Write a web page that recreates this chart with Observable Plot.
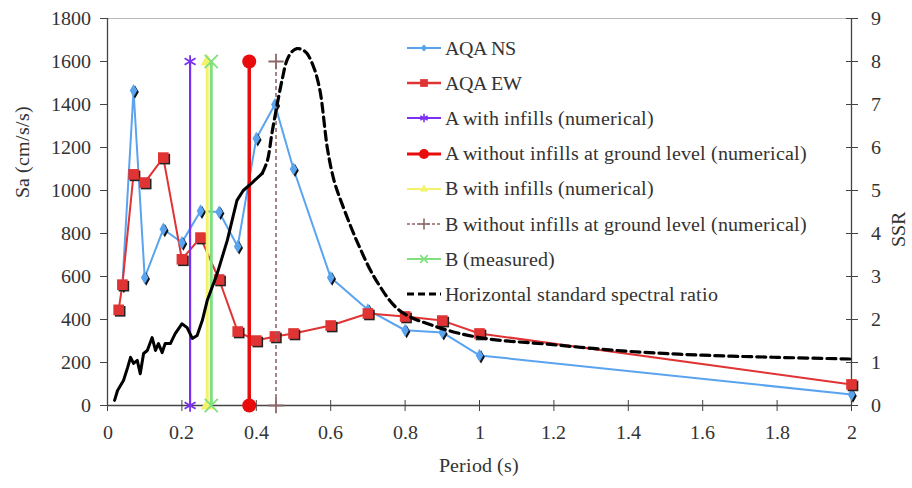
<!DOCTYPE html>
<html>
<head>
<meta charset="utf-8">
<script src="https://cdn.jsdelivr.net/npm/d3@7"></script>
<script src="https://cdn.jsdelivr.net/npm/@observablehq/plot@0.6"></script>
<style>
  @font-face { font-family: "ChartSerif"; src: local("Liberation Serif"), local("LiberationSerif"), local("LiberationSerif-Regular"), local("Times New Roman"); }
  body { margin: 0; }
  html body *, html body svg text { font-family: "ChartSerif", 'Liberation Serif', serif !important; }
  .wrap { position: relative; width: 912px; height: 488px; }
  .xtitle { position: absolute; left: 0; width: 958px; top: 454px; text-align: center; font-size: 20px; color: #333; }
  .legend { position: absolute; left: 406px; top: 30px; }
  .row { position: absolute; left: 0; height: 24px; display: flex; align-items: center; white-space: nowrap; font-size: 20px; color: #333; }
  .row svg { margin-right: 3px; }
</style>
</head>
<body>
<div class="wrap" id="wrap">
  <div class="xtitle">Period (s)</div>
  <div class="legend" id="legend"></div>
</div>
<script>
// ---- data ----
const nsPeriod = [0.04, 0.07, 0.1, 0.15, 0.2, 0.25, 0.3, 0.35, 0.4, 0.45, 0.5, 0.6, 0.7, 0.8, 0.9, 1.0, 2.0];
const nsSa     = [560, 1465, 595, 820, 758, 905, 900, 740, 1242, 1400, 1100, 595, 445, 350, 340, 233, 51];

const ewPeriod = [0.03, 0.04, 0.07, 0.1, 0.15, 0.2, 0.25, 0.3, 0.35, 0.4, 0.45, 0.5, 0.6, 0.7, 0.8, 0.9, 1.0, 2.0];
const ewSa     = [445, 562, 1075, 1037, 1153, 680, 781, 586, 344, 302, 321, 335, 372, 428, 414, 395, 335, 98];

// vertical period markers (Sa from 0 to 1600)
const vlineNames   = ["A with infills (numerical)", "B with infills (numerical)", "B (measured)", "A without infills at ground level (numerical)", "B without infills at ground level (numerical)"];
const vlinePeriods = [0.222, 0.268, 0.279, 0.381, 0.453];
const vlineLow = 0, vlineHigh = 1600;

// Horizontal standard spectral ratio (right axis)
const ssrSolidPeriod = [0.019, 0.027, 0.043, 0.054, 0.062, 0.07, 0.08, 0.088, 0.097, 0.107, 0.12, 0.129, 0.137, 0.147, 0.155, 0.169, 0.182, 0.2, 0.214, 0.228, 0.241, 0.255, 0.268, 0.295, 0.322, 0.348, 0.365, 0.39, 0.416];
const ssrSolidValue  = [0.12, 0.35, 0.58, 0.88, 1.12, 0.98, 1.05, 0.74, 1.21, 1.28, 1.58, 1.28, 1.44, 1.23, 1.44, 1.44, 1.67, 1.9, 1.81, 1.56, 1.63, 1.98, 2.44, 3.07, 3.84, 4.77, 5.0, 5.19, 5.4];
const ssrDashPeriod  = [0.416, 0.43, 0.442, 0.455, 0.47, 0.482, 0.495, 0.509, 0.522, 0.536, 0.555, 0.571, 0.592, 0.61, 0.63, 0.673, 0.723, 0.785, 0.874, 1.0, 1.19, 1.4, 1.6, 1.8, 2.0];
const ssrDashValue   = [5.4, 5.7, 6.33, 6.95, 7.6, 8.02, 8.22, 8.3, 8.28, 8.19, 7.85, 7.33, 5.93, 5.2, 4.7, 3.77, 2.9, 2.21, 1.86, 1.58, 1.42, 1.26, 1.17, 1.12, 1.08];

const xTicks = [0, 0.2, 0.4, 0.6, 0.8, 1, 1.2, 1.4, 1.6, 1.8, 2];
const saTicks = [0, 200, 400, 600, 800, 1000, 1200, 1400, 1600, 1800];
const ssrToSa = 200; // right axis 0..9 maps onto 0..1800

// ---- styles ----
const FONT = "ChartSerif, Liberation Serif, serif";
const C = {
  ns: "#5aa3ef", ew: "#e03333", aIn: "#7a2ff2", aOut: "#e80c0c",
  bIn: "#f4f26a", bOut: "#8d6868", bMeas: "#7fe07f", ssr: "#000"
};
const vStyles = [
  {color: C.aIn, width: 2.2, symbol: "asterisk", dash: null, r: 6},
  {color: C.bIn, width: 3, symbol: "triangle", dash: null, r: 5},
  {color: C.bMeas, width: 3, symbol: "times", dash: null, r: 6},
  {color: C.aOut, width: 3.5, symbol: "circle", dash: null, r: 7},
  {color: C.bOut, width: 1.6, symbol: "plus", dash: "4,3", r: 5}
];

const ns = nsPeriod.map((p, i) => ({p, v: nsSa[i]}));
const ew = ewPeriod.map((p, i) => ({p, v: ewSa[i]}));
const ssrSolid = ssrSolidPeriod.map((p, i) => ({p, v: ssrSolidValue[i] * ssrToSa}));
const ssrDash = ssrDashPeriod.map((p, i) => ({p, v: ssrDashValue[i] * ssrToSa}));

const vMarks = vlinePeriods.flatMap((p, i) => {
  const s = vStyles[i];
  const ends = [{p, v: vlineLow}, {p, v: vlineHigh}];
  const m = [Plot.ruleX([p], {y1: vlineLow, y2: vlineHigh, stroke: s.color, strokeWidth: s.width, strokeDasharray: s.dash})];
  if (s.symbol === "circle" || s.symbol === "triangle") {
    m.push(Plot.dot(ends, {x: "p", y: "v", r: s.r, fill: s.color, symbol: s.symbol}));
  } else {
    m.push(Plot.dot(ends, {x: "p", y: "v", r: s.r, stroke: s.color, strokeWidth: 1.8, symbol: s.symbol}));
  }
  return m;
});

const chart = Plot.plot({
  width: 912, height: 488,
  marginTop: 18, marginBottom: 83, marginLeft: 107, marginRight: 61,
  style: {fontFamily: FONT, fontSize: "20px", color: "#333", background: "#fff"},
  x: {domain: [0, 2]},
  y: {domain: [0, 1800]},
  marks: [
    Plot.ruleY([1800], {stroke: "#bbb", strokeWidth: 1}),
    Plot.ruleY([0], {stroke: "#444", strokeWidth: 1.3}),
    Plot.ruleX([0], {stroke: "#444", strokeWidth: 1.3}),
    Plot.ruleX([2], {stroke: "#444", strokeWidth: 1.3}),
    Plot.axisX({ticks: xTicks, tickFormat: d => String(+d.toFixed(1)), tickSize: 11, dy: -5, tickPadding: 13, label: null, stroke: "#444", fontFamily: FONT, fontSize: 20}),
    Plot.axisY({anchor: "left", ticks: saTicks, tickFormat: d => String(d), tickSize: 7, tickPadding: 10, label: null, stroke: "#444", fontFamily: FONT, fontSize: 20}),
    Plot.axisY({anchor: "right", ticks: saTicks, tickFormat: d => String(d / ssrToSa), tickSize: 12, dx: -6, tickPadding: 13, label: null, stroke: "#444", fontFamily: FONT, fontSize: 20}),
    Plot.text(["Sa (cm/s/s)"], {frameAnchor: "left", rotate: -90, dx: -85, dy: -14, fontSize: 20, fill: "#333", fontFamily: FONT}),
    Plot.text(["SSR"], {frameAnchor: "right", rotate: -90, dx: 47, fontSize: 20, fill: "#333", fontFamily: FONT}),
    // AQA NS
    Plot.line(ns, {x: "p", y: "v", stroke: C.ns, strokeWidth: 2}),
    // AQA EW
    Plot.line(ew, {x: "p", y: "v", stroke: C.ew, strokeWidth: 2}),
    Plot.dot(ns, {x: "p", y: "v", symbol: "diamond", r: 4, fill: "#111", dx: 1.5, dy: 1.5}),
    Plot.dot(ns, {x: "p", y: "v", symbol: "diamond", r: 4, fill: C.ns}),
    Plot.dot(ew, {x: "p", y: "v", symbol: "square", r: 6, fill: "#222", dx: 1.5, dy: 1.5}),
    Plot.dot(ew, {x: "p", y: "v", symbol: "square", r: 6, fill: C.ew}),
    ...vMarks,
    // SSR
    Plot.line(ssrSolid, {x: "p", y: "v", stroke: C.ssr, strokeWidth: 3, curve: "linear"}),
    Plot.line(ssrDash, {x: "p", y: "v", stroke: C.ssr, strokeWidth: 3.2, strokeDasharray: "9,5", curve: "catmull-rom"})
  ]
});
document.getElementById("wrap").prepend(chart);

// ---- legend ----
const legendItems = [
  {label: "AQA NS", color: C.ns, width: 2, symbol: d3.symbolDiamond2, fill: true, size: 30},
  {label: "AQA EW", color: C.ew, width: 2.5, symbol: d3.symbolSquare, fill: true, size: 60},
  {label: vlineNames[0], color: C.aIn, width: 2, symbol: d3.symbolAsterisk, fill: false, size: 50},
  {label: vlineNames[3], color: C.aOut, width: 3, symbol: d3.symbolCircle, fill: true, size: 80},
  {label: vlineNames[1], color: C.bIn, width: 2, symbol: d3.symbolTriangle, fill: true, size: 30},
  {label: vlineNames[4], color: C.bOut, width: 1.5, symbol: d3.symbolPlus, fill: false, size: 40, dash: "3,2"},
  {label: vlineNames[2], color: C.bMeas, width: 2, symbol: d3.symbolTimes, fill: false, size: 40},
  {label: "Horizontal standard spectral ratio", color: "#000", width: 3, symbol: null, dash: "7,4"}
];
const legend = d3.select("#legend");
legendItems.forEach((it, i) => {
  const row = legend.append("div").attr("class", "row").style("top", (i * 35.2 + 6) + "px");
  const svg = row.append("svg").attr("width", 36).attr("height", 16);
  svg.append("line").attr("x1", 1).attr("x2", 35).attr("y1", 8).attr("y2", 8)
    .attr("stroke", it.color).attr("stroke-width", it.width)
    .attr("stroke-dasharray", it.dash || null);
  if (it.symbol) {
    svg.append("path").attr("transform", "translate(18,8)")
      .attr("d", d3.symbol(it.symbol, it.size)())
      .attr("fill", it.fill ? it.color : "none")
      .attr("stroke", it.fill ? "none" : it.color)
      .attr("stroke-width", 1.6);
  }
  row.append("span").text(it.label);
});
</script>
</body>
</html>
